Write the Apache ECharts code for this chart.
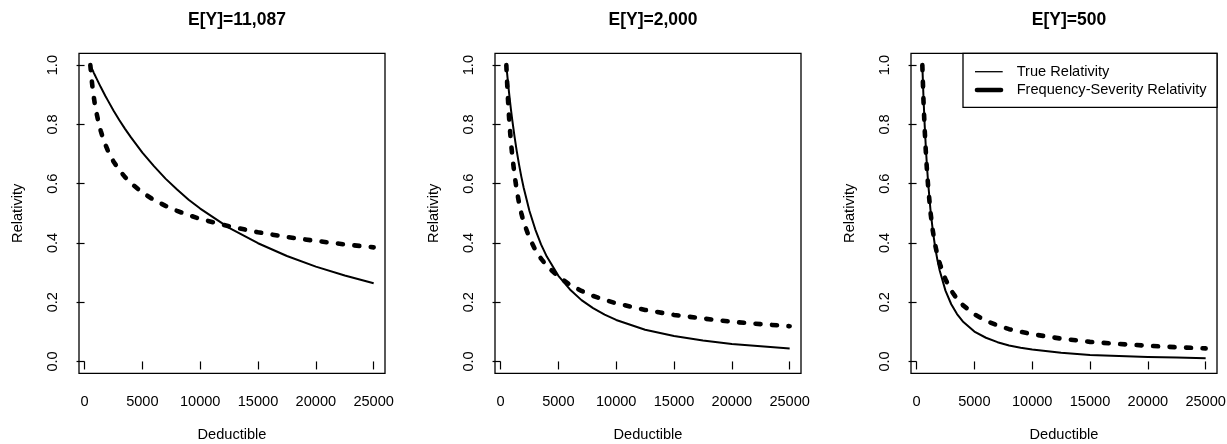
<!DOCTYPE html>
<html>
<head>
<meta charset="utf-8">
<script src="https://cdn.jsdelivr.net/npm/echarts@6/dist/echarts.min.js"></script>
<style>
html,body{margin:0;padding:0;background:#fff;}
#chart{width:1227px;height:444px;}
</style>
</head>
<body>
<div id="chart"></div>
<script>
// ---- data ----
const panelTitles = ['E[Y]=11,087', 'E[Y]=2,000', 'E[Y]=500'];
const deductibles = [500, 600, 700, 800, 900, 1000, 1200, 1400, 1600, 1800, 2000, 2500, 3000, 3500, 4000, 5000, 6000, 7000, 8000, 9000, 10000, 12500, 15000, 17500, 20000, 22500, 25000];

const trueRel1    = [1.000, 0.991, 0.983, 0.974, 0.966, 0.958, 0.942, 0.926, 0.911, 0.896, 0.882, 0.847, 0.815, 0.785, 0.757, 0.705, 0.659, 0.617, 0.580, 0.546, 0.516, 0.451, 0.399, 0.356, 0.320, 0.290, 0.264];
const freqSevRel1 = [1.000, 0.956, 0.921, 0.892, 0.866, 0.845, 0.808, 0.778, 0.753, 0.732, 0.713, 0.675, 0.646, 0.622, 0.602, 0.570, 0.545, 0.525, 0.508, 0.494, 0.481, 0.456, 0.436, 0.420, 0.407, 0.395, 0.385];

const trueRel2    = [1.000, 0.959, 0.920, 0.884, 0.850, 0.819, 0.761, 0.710, 0.664, 0.623, 0.586, 0.508, 0.446, 0.395, 0.354, 0.289, 0.243, 0.207, 0.180, 0.158, 0.140, 0.107, 0.086, 0.071, 0.059, 0.051, 0.044];
const freqSevRel2 = [1.000, 0.915, 0.845, 0.788, 0.740, 0.700, 0.632, 0.578, 0.535, 0.500, 0.470, 0.417, 0.377, 0.347, 0.323, 0.286, 0.259, 0.238, 0.221, 0.208, 0.196, 0.174, 0.157, 0.145, 0.134, 0.126, 0.119];

const trueRel3    = [1.000, 0.891, 0.800, 0.724, 0.659, 0.604, 0.513, 0.443, 0.388, 0.343, 0.307, 0.239, 0.193, 0.160, 0.135, 0.101, 0.080, 0.065, 0.054, 0.046, 0.040, 0.029, 0.022, 0.018, 0.015, 0.013, 0.011];
const freqSevRel3 = [1.000, 0.880, 0.785, 0.710, 0.645, 0.592, 0.505, 0.442, 0.395, 0.360, 0.331, 0.277, 0.239, 0.211, 0.190, 0.159, 0.137, 0.122, 0.109, 0.100, 0.092, 0.077, 0.066, 0.059, 0.053, 0.048, 0.044];

const xTicks = [0, 5000, 10000, 15000, 20000, 25000];
const yTicks = [0, 0.2, 0.4, 0.6, 0.8, 1.0];
const seriesNames = ['True Relativity', 'Frequency-Severity Relativity'];
const axisNames = { x: 'Deductible', y: 'Relativity' };

const trueRels = [trueRel1, trueRel2, trueRel3];
const fsRels = [freqSevRel1, freqSevRel2, freqSevRel3];

// ---- layout ----
const FONT = '"Liberation Sans", Arial, Helvetica, sans-serif';
const FS = 14.6;
const gridLefts = [79, 495, 911];
const gridW = 306, gridTop = 53.3, gridH = 320;

const chart = echarts.init(document.getElementById('chart'), null, { renderer: 'canvas' });

const grids = [], xAxes = [], yAxes = [], series = [], titles = [];
for (let i = 0; i < 3; i++) {
  grids.push({ left: gridLefts[i], top: gridTop, width: gridW, height: gridH,
    containLabel: false, outerBoundsMode: 'none',
    show: true, borderColor: '#000', borderWidth: 1.3, backgroundColor: 'transparent' });
  titles.push({ text: panelTitles[i], left: gridLefts[i] + gridW / 2, top: 6, textAlign: 'center',
    textStyle: { fontFamily: FONT, fontSize: 17.5, fontWeight: 'bold', color: '#000' } });
  xAxes.push({
    type: 'value', gridIndex: i, min: -480, max: 25980,
    name: axisNames.x, nameLocation: 'middle', nameGap: 54,
    nameTextStyle: { fontFamily: FONT, fontSize: FS, color: '#000' },
    axisLine: { show: false },
    splitLine: { show: false },
    axisTick: { show: true, customValues: xTicks, length: 8, inside: false, lineStyle: { color: '#000', width: 1.2 } },
    axisLabel: { customValues: xTicks, margin: 21, fontFamily: FONT, fontSize: FS, color: '#000',
      formatter: v => String(v) }
  });
  yAxes.push({
    type: 'value', gridIndex: i, min: -0.04, max: 1.04,
    name: axisNames.y, nameLocation: 'middle', nameGap: 54, nameRotate: 90,
    nameTextStyle: { fontFamily: FONT, fontSize: FS, color: '#000' },
    axisLine: { show: false },
    splitLine: { show: false },
    axisTick: { show: true, customValues: yTicks, length: 8, lineStyle: { color: '#000', width: 1.2 } },
    axisLabel: { customValues: yTicks, margin: 19, rotate: 90, fontFamily: FONT, fontSize: FS, color: '#000',
      formatter: v => Number(v).toFixed(1) }
  });
  series.push({
    name: seriesNames[0], type: 'line', xAxisIndex: i, yAxisIndex: i,
    data: deductibles.map((d, k) => [d, trueRels[i][k]]),
    showSymbol: false, symbol: 'none', smooth: false,
    lineStyle: { color: '#000', width: 2, join: 'round' }, silent: true, z: 3
  });
  series.push({
    name: seriesNames[1], type: 'line', xAxisIndex: i, yAxisIndex: i,
    data: deductibles.map((d, k) => [d, fsRels[i][k]]),
    showSymbol: false, symbol: 'none', smooth: false,
    lineStyle: { color: '#000', width: 4.6, type: [5, 11.5], cap: 'round', join: 'round' }, silent: true, z: 3
  });
}

// legend (panel 3, top-right corner, R style)
const lgX = 963, lgY = 53.3, lgW = 254, lgH = 54;
const graphic = [
  { type: 'rect', shape: { x: lgX, y: lgY, width: lgW, height: lgH },
    style: { fill: '#fff', stroke: '#000', lineWidth: 1.3 }, z: 10 },
  { type: 'line', shape: { x1: 975, y1: 71.7, x2: 1002.7, y2: 71.7 },
    style: { stroke: '#000', lineWidth: 1.3 }, z: 11 },
  { type: 'line', shape: { x1: 977, y1: 90, x2: 1001, y2: 90 },
    style: { stroke: '#000', lineWidth: 4.6, lineCap: 'round' }, z: 11 },
  { type: 'text', x: 1016.7, y: 71.7, z: 11,
    style: { text: seriesNames[0], font: FS + 'px ' + FONT, fill: '#000', verticalAlign: 'middle', align: 'left' } },
  { type: 'text', x: 1016.7, y: 90, z: 11,
    style: { text: seriesNames[1], font: FS + 'px ' + FONT, fill: '#000', verticalAlign: 'middle', align: 'left' } }
];

chart.setOption({
  animation: false,
  backgroundColor: '#fff',
  title: titles,
  grid: grids,
  xAxis: xAxes,
  yAxis: yAxes,
  series: series,
  graphic: graphic
});
</script>
</body>
</html>
